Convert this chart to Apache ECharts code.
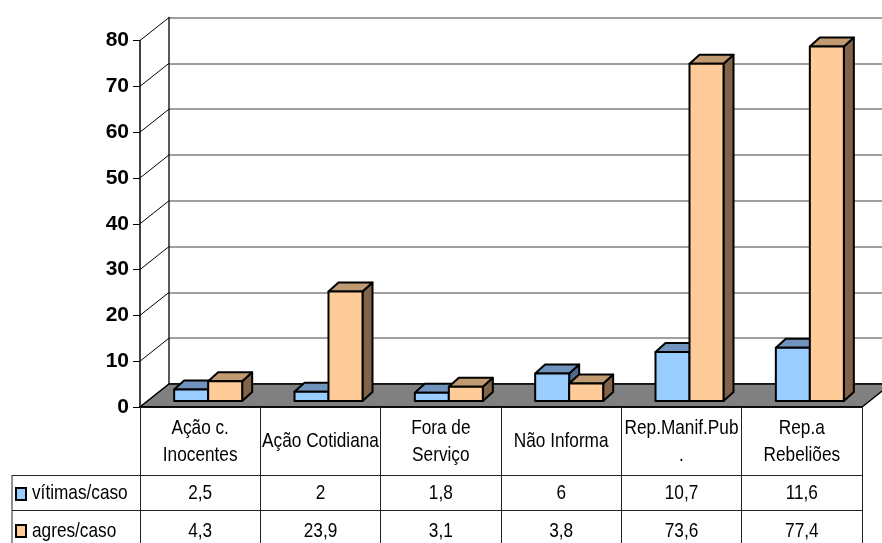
<!DOCTYPE html>
<html><head><meta charset="utf-8">
<script src="https://cdn.jsdelivr.net/npm/echarts@6/dist/echarts.min.js"></script>
<style>html,body{margin:0;padding:0;background:#fff}#chart{width:882px;height:543px}</style>
</head><body><div id="chart"></div>
<script>
// categories and values per case
const categories = ['Ação c.\nInocentes', 'Ação Cotidiana', 'Fora de\nServiço', 'Não Informa', 'Rep.Manif.Pub\n.', 'Rep.a\nRebeliões'];
const seriesNames = ['vítimas/caso', 'agres/caso'];
const vitimas = [2.5, 2, 1.8, 6, 10.7, 11.6];
const agres = [4.3, 23.9, 3.1, 3.8, 73.6, 77.4];
const yTicks = [0, 10, 20, 30, 40, 50, 60, 70, 80];

// 3D look
const WALL_DX = 29, WALL_DY = -23;   // back wall offset from the front plane
const BAR_OY = -6;                   // bars stand slightly behind the front edge
const BAR_DX = 10, BAR_DY = -9;      // bar depth
const BAR_W = 34;
const FONT = "'Liberation Sans', Arial, sans-serif";
const TABLE_FONT = '21px ' + FONT;
const NARROW = 0.82;                 // condensed table lettering

const palette = [
  { front: '#99CCFF', top: '#7093BE', side: '#4D6A8C' },
  { front: '#FFCC99', top: '#C09A70', side: '#806349' }
];

const fmt = v => String(v).replace('.', ',');

function narrowText(x, y, text, align) {
  return {
    type: 'text', x: x, y: y, scaleX: NARROW,
    style: { x: 0, y: 0, text: text, fill: '#000', font: TABLE_FONT, align: align || 'center', verticalAlign: 'middle', lineHeight: 27 }
  };
}

function barRenderer(k) {
  const c = palette[k];
  return function (params, api) {
    const i = api.value(0), v = api.value(1);
    const base = api.coord([i, 0]);
    const top = api.coord([i, v]);
    const x0 = base[0] - 26 + k * BAR_W, x1 = x0 + BAR_W;
    const yb = base[1] + BAR_OY, yt = top[1] + BAR_OY;
    const st = { stroke: '#000', lineWidth: 2, lineJoin: 'round' };
    return {
      type: 'group', children: [
        { type: 'polygon', shape: { points: [[x1, yb], [x1 + BAR_DX, yb + BAR_DY], [x1 + BAR_DX, yt + BAR_DY], [x1, yt]] }, style: Object.assign({ fill: c.side }, st) },
        { type: 'polygon', shape: { points: [[x0, yt], [x1, yt], [x1 + BAR_DX, yt + BAR_DY], [x0 + BAR_DX, yt + BAR_DY]] }, style: Object.assign({ fill: c.top }, st) },
        { type: 'rect', shape: { x: x0, y: yt, width: BAR_W, height: yb - yt }, style: Object.assign({ fill: c.front }, st) }
      ]
    };
  };
}

function rowRenderer(rowY) {
  return function (params, api) {
    const p = api.coord([api.value(0), 0]);
    return narrowText(p[0], rowY, fmt(api.value(1)));
  };
}

const chart = echarts.init(document.getElementById('chart'));
const idx = categories.map((_, i) => i);

chart.setOption({
  animation: false,
  backgroundColor: '#fff',
  grid: [
    { left: 140, top: 40.5, width: 722, height: 366.5 },
    { left: 140 + WALL_DX, top: 40.5 + WALL_DY, width: 722, height: 366.5 }
  ],
  xAxis: [
    {
      type: 'category', gridIndex: 0, data: categories,
      axisLine: { show: true, lineStyle: { color: '#000', width: 1.5 } },
      axisTick: { show: true, interval: 0, length: 136, lineStyle: { color: '#222', width: 1 } },
      axisLabel: { show: false },
      z: 5
    },
    {
      type: 'category', gridIndex: 1, position: 'top', data: categories,
      axisLine: { show: true, lineStyle: { color: '#333', width: 1.5 } },
      axisTick: { show: false }, axisLabel: { show: false }
    }
  ],
  yAxis: [
    {
      type: 'value', gridIndex: 0, min: 0, max: 80, interval: 10,
      axisLine: { show: true, lineStyle: { color: '#000', width: 1.5 } },
      axisTick: { show: true, length: 7, lineStyle: { color: '#000', width: 1 } },
      axisLabel: { margin: 11, fontSize: 21, fontWeight: 'bold', fontFamily: FONT, color: '#000' },
      splitLine: { show: false },
      z: 5
    },
    {
      type: 'value', gridIndex: 1, min: 0, max: 80, interval: 10,
      axisLine: { show: true, lineStyle: { color: '#222', width: 1.5 } },
      axisTick: { show: false }, axisLabel: { show: false },
      splitLine: { show: true, lineStyle: { color: '#808080', width: 1.5 } }
    }
  ],
  series: [
    {
      // side wall: lines joining front ticks to the back wall grid
      type: 'custom', xAxisIndex: 0, yAxisIndex: 0, z: 1, silent: true,
      data: yTicks.map(v => [0, v]),
      renderItem: function (params, api) {
        const p = api.coord([0, api.value(1)]);
        const x = params.coordSys.x;
        return { type: 'line', shape: { x1: x, y1: p[1], x2: x + WALL_DX, y2: p[1] + WALL_DY }, style: { stroke: '#000', lineWidth: 1 } };
      }
    },
    {
      // floor
      type: 'custom', xAxisIndex: 0, yAxisIndex: 0, z: 2, silent: true,
      data: [[0, 0]],
      renderItem: function (params, api) {
        const cs = params.coordSys;
        const y = api.coord([0, 0])[1];
        return {
          type: 'polygon',
          shape: { points: [[cs.x, y], [cs.x + cs.width, y], [cs.x + cs.width + WALL_DX, y + WALL_DY], [cs.x + WALL_DX, y + WALL_DY]] },
          style: { fill: '#808080', stroke: '#000', lineWidth: 1.5 }
        };
      }
    },
    {
      name: seriesNames[0], type: 'custom', xAxisIndex: 0, yAxisIndex: 0, z: 3,
      data: idx.map(i => [i, vitimas[i]]), renderItem: barRenderer(0)
    },
    {
      name: seriesNames[1], type: 'custom', xAxisIndex: 0, yAxisIndex: 0, z: 4,
      data: idx.map(i => [i, agres[i]]), renderItem: barRenderer(1)
    },
    {
      // category names in the table header row
      type: 'custom', xAxisIndex: 0, yAxisIndex: 0, z: 5, silent: true,
      data: idx.map(i => [i, 0]),
      renderItem: function (params, api) {
        const i = api.value(0);
        const p = api.coord([i, 0]);
        return narrowText(p[0], 441.5, categories[i]);
      }
    },
    {
      type: 'custom', xAxisIndex: 0, yAxisIndex: 0, z: 5, silent: true,
      data: idx.map(i => [i, vitimas[i]]), renderItem: rowRenderer(493)
    },
    {
      type: 'custom', xAxisIndex: 0, yAxisIndex: 0, z: 5, silent: true,
      data: idx.map(i => [i, agres[i]]), renderItem: rowRenderer(531)
    }
  ],
  graphic: [
    // data table lines and legend cells
    { type: 'line', shape: { x1: 12, y1: 475.5, x2: 862, y2: 475.5 }, style: { stroke: '#222', lineWidth: 1 } },
    { type: 'line', shape: { x1: 12, y1: 510.5, x2: 862, y2: 510.5 }, style: { stroke: '#222', lineWidth: 1 } },
    { type: 'line', shape: { x1: 12, y1: 475, x2: 12, y2: 543 }, style: { stroke: '#222', lineWidth: 1 } },
    { type: 'rect', shape: { x: 16, y: 488, width: 10, height: 12 }, style: { fill: palette[0].front, stroke: '#000', lineWidth: 2 } },
    narrowText(32, 493, seriesNames[0], 'left'),
    { type: 'rect', shape: { x: 16, y: 525, width: 10, height: 12 }, style: { fill: palette[1].front, stroke: '#000', lineWidth: 2 } },
    narrowText(32, 531, seriesNames[1], 'left')
  ]
});
</script>
</body></html>
